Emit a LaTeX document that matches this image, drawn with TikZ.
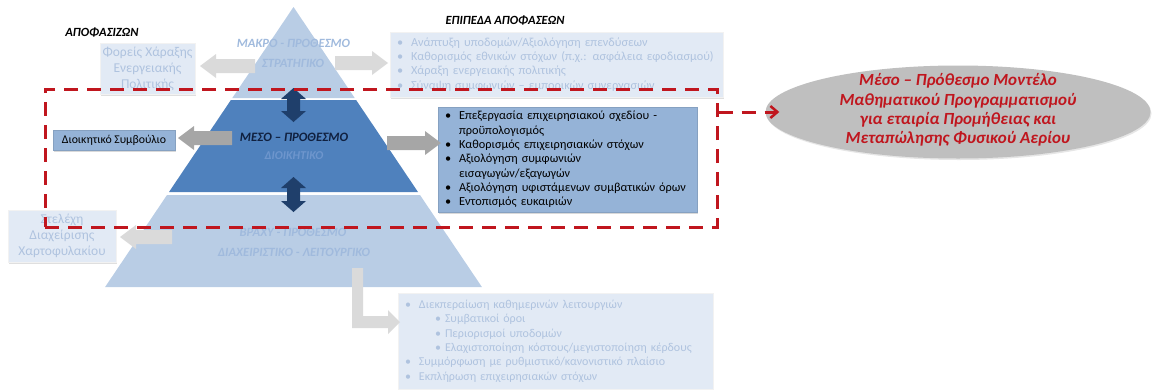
\documentclass[tikz,border=0pt]{standalone}
\usepackage{fontspec}
\setmainfont{Carlito}
\usetikzlibrary{arrows.meta,shadows,shapes.geometric}
\definecolor{pyrlight}{HTML}{B9CDE5}
\definecolor{pyrmid}{HTML}{4F81BD}
\definecolor{boxmid}{HTML}{95B3D7}
\definecolor{fadefill}{HTML}{E2EAF5}
\definecolor{fadetext}{HTML}{AFC3DF}
\definecolor{pyrtext}{HTML}{A0BADD}
\definecolor{fadegray}{HTML}{DADADA}
\definecolor{midgray}{HTML}{A6A6A6}
\definecolor{navy}{HTML}{1F3F6B}
\definecolor{dred}{HTML}{C0161E}
\definecolor{ellfill}{HTML}{BFBFBF}
\definecolor{dioik}{HTML}{6E96CD}
\definecolor{midtext}{HTML}{10203F}
% horizontal block arrow: tail x, tip x, y, shaft half, head half, neck x, colour
\newcommand\hblkarrow[7]{%
  \fill[#7] (#1,{#3-#4}) -- (#6,{#3-#4}) -- (#6,{#3-#5}) -- (#2,#3) -- (#6,{#3+#5}) -- (#6,{#3+#4}) -- (#1,{#3+#4}) -- cycle;}
% vertical double block arrow: x, top y, bottom y, shaft half, head half, head length
\newcommand\vdblkarrow[6]{%
  \fill[navy] (#1,#2) -- ({#1+#5},{#2+#6}) -- ({#1+#4},{#2+#6}) -- ({#1+#4},{#3-#6}) -- ({#1+#5},{#3-#6}) -- (#1,#3)
   -- ({#1-#5},{#3-#6}) -- ({#1-#4},{#3-#6}) -- ({#1-#4},{#2+#6}) -- ({#1-#5},{#2+#6}) -- cycle;}
\newcommand\bul{\makebox[14pt][l]{•}}
\newcommand\sbul{\hspace*{30pt}\makebox[10pt][l]{•}}
\tikzset{
  hdr/.style={font=\fontsize{12.5}{14}\selectfont\bfseries\itshape},
  pyrlab/.style={font=\fontsize{12.6}{14}\selectfont\bfseries\itshape, text=pyrtext},
  fadebox/.style={draw=white!90!gray, fill=fadefill, text=fadetext, align=center, inner sep=0pt,
    font=\fontsize{13.5}{16}\selectfont, drop shadow={shadow xshift=1pt, shadow yshift=-1.5pt, opacity=0.25}},
  midbox/.style={draw=boxmid!90!black, fill=boxmid, text=black, inner sep=0pt,
    font=\fontsize{12.3}{14.3}\selectfont, drop shadow={shadow xshift=1pt, shadow yshift=-1.5pt, opacity=0.3}},
  listbox/.style={align=left, inner xsep=7pt, inner ysep=0pt},
  reddash/.style={draw=dred, line width=3pt, dash pattern=on 14pt off 9pt},
}
\begin{document}
\begin{tikzpicture}[x=1pt,y=-1pt]
\useasboundingbox (0,0) rectangle (1153,389);
% pyramid
\fill[pyrlight] (293.5,7) -- (354.7,98) -- (232.3,98) -- cycle;
\fill[pyrmid] (230.9,100) -- (356.1,100) -- (418,192) -- (169,192) -- cycle;
\fill[pyrlight] (167,195) -- (420,195) -- (481.9,287) -- (105.1,287) -- cycle;
% pyramid labels
\node[pyrlab] (makro1) at (293.5,43) {ΜΑΚΡΟ - ΠΡΟΘΕΣΜΟ};
\node[pyrlab] (makro2) at (293,63) {ΣΤΡΑΤΗΓΙΚΟ};
\node[font=\fontsize{12.8}{14}\selectfont\bfseries\itshape, text=midtext] (meso1) at (294,137) {ΜΕΣΟ – ΠΡΟΘΕΣΜΟ};
\node[font=\fontsize{12}{14}\selectfont\bfseries\itshape, text=dioik] (meso2) at (294,156) {ΔΙΟΙΚΗΤΙΚΟ};
\node[pyrlab] (brachy1) at (293,232) {ΒΡΑΧΥ - ΠΡΟΘΕΣΜΟ};
\node[pyrlab] (brachy2) at (294,252) {ΔΙΑΧΕΙΡΙΣΤΙΚΟ - ΛΕΙΤΟΥΡΓΙΚΟ};
% navy double arrows
\vdblkarrow{293.5}{88}{122}{6.5}{12.5}{11}
\vdblkarrow{293.5}{177}{212}{6.5}{12.5}{11}
% headers
\node[hdr] (apof) at (102,32) {ΑΠΟΦΑΣΙΖΩΝ};
\node[hdr] (epip) at (505,20) {ΕΠΙΠΕΔΑ ΑΠΟΦΑΣΕΩΝ};
% left boxes
\node[fadebox, minimum width=95, minimum height=51] (foreis) at (147.5,68.5) {Φορείς Χάραξης\\Ενεργειακής\\Πολιτικής};
\node[midbox, align=center, font=\fontsize{11.8}{14}\selectfont, minimum width=122, minimum height=20] (dioikbox) at (114,140) {Διοικητικό Συμβούλιο};
\node[fadebox, minimum width=108, minimum height=52] (stelexi) at (62,236) {Στελέχη\\Διαχείρισης\\Χαρτοφυλακίου};
% right boxes
\node[fadebox, listbox, font=\fontsize{12.3}{14.3}\selectfont, minimum width=333, minimum height=65, text width=319] (macrolist) at (556.5,64.5)
 {\bul Ανάπτυξη υποδομών/Αξιολόγηση επενδύσεων\\
  \bul Καθορισμός εθνικών στόχων (π.χ.: ασφάλεια εφοδιασμού)\\
  \bul Χάραξη ενεργειακής πολιτικής\\
  \bul Σύναψη συμφωνιών – εμπορικών συνεργασιών};
\node[midbox, listbox, minimum width=259, minimum height=105, text width=245] (mesolist) at (567.5,159.5)
 {\bul Επεξεργασία επιχειρησιακού σχεδίου -\\
  \hspace*{14pt}προϋπολογισμός\\
  \bul Καθορισμός επιχειρησιακών στόχων\\
  \bul Αξιολόγηση συμφωνιών\\
  \hspace*{14pt}εισαγωγών/εξαγωγών\\
  \bul Αξιολόγηση υφιστάμενων συμβατικών όρων\\
  \bul Εντοπισμός ευκαιριών};
\node[fadebox, listbox, font=\fontsize{12}{14.4}\selectfont, minimum width=315, minimum height=96, text width=301] (brachylist) at (555.5,341)
 {\makebox[14pt][l]{•}Διεκπεραίωση καθημερινών λειτουργιών\\
  \sbul Συμβατικοί όροι\\
  \sbul Περιορισμοί υποδομών\\
  \sbul Ελαχιστοποίηση κόστους/μεγιστοποίηση κέρδους\\
  \makebox[14pt][l]{•}Συμμόρφωση με ρυθμιστικό/κανονιστικό πλαίσιο\\
  \makebox[14pt][l]{•}Εκπλήρωση επιχειρησιακών στόχων};
% grey block arrows
\hblkarrow{255}{200}{66}{7}{12}{216}{fadegray}
\hblkarrow{335}{388}{63}{7}{12}{372}{fadegray}
\hblkarrow{232}{178}{138}{7}{12}{194}{midgray}
\hblkarrow{387}{441}{143}{7}{12}{425}{midgray}
\hblkarrow{172}{120}{237}{7}{12}{136}{fadegray}
\fill[fadegray] (352,268) -- (363,268) -- (363,316) -- (388,316) -- (388,310) -- (400,322) -- (388,334) -- (388,328) -- (352,328) -- cycle;
% ellipse
\node[ellipse, fill=ellfill, minimum width=385, minimum height=93, inner sep=0pt,
  drop shadow={shadow xshift=1pt, shadow yshift=-1.5pt, opacity=0.2}] (model) at (958,112) {};
\node[align=center, text=dred, font=\fontsize{17}{19.3}\selectfont\bfseries\itshape] (modeltext) at (958,110)
 {Μέσο – Πρόθεσμο Μοντέλο\\Μαθηματικού Προγραμματισμού\\για εταιρία Προμήθειας και\\Μεταπώλησης Φυσικού Αερίου};
% red dashed focus frame and connector
\node[reddash, minimum width=672, minimum height=138, inner sep=0pt] (focus) at (381,158) {};
\coordinate (branch) at (focus.east |- model.west);
\draw[reddash, -{Straight Barb[length=7pt,width=12pt,line width=2.5pt]}] (branch) -- ([xshift=14pt]model.west);
\end{tikzpicture}
\end{document}
